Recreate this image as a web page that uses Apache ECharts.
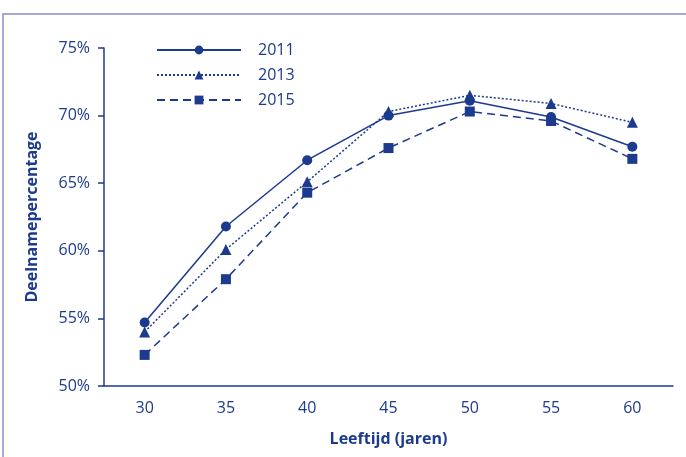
<!DOCTYPE html>
<html>
<head>
<meta charset="utf-8">
<script src="https://cdn.jsdelivr.net/npm/echarts@6/dist/echarts.min.js"></script>
<style>
  html, body { margin: 0; padding: 0; background: #fff; }
  #main { width: 686px; height: 457px; }
</style>
</head>
<body>
<div id="main"></div>
<script>
// leeftijden op de x-as
const ages = ['30', '35', '40', '45', '50', '55', '60'];
// deelnamepercentages per jaar
const data2011 = [54.7, 61.8, 66.7, 70.0, 71.1, 69.9, 67.7];
const data2013 = [54.0, 60.1, 65.1, 70.3, 71.5, 70.9, 69.5];
const data2015 = [52.3, 57.9, 64.3, 67.6, 70.3, 69.6, 66.8];

const navy = '#1c3a8e';
const font = 'Open Sans';

const chart = echarts.init(document.getElementById('main'), null, { renderer: 'canvas' });

function serie(name, data, symbol, size, lineType) {
  return {
    name: name,
    type: 'line',
    data: data,
    symbol: symbol,
    symbolSize: size,
    itemStyle: { color: navy },
    lineStyle: { color: navy, width: 1.5, type: lineType },
    animation: false
  };
}

const option = {
  backgroundColor: '#fff',
  graphic: [{
    type: 'rect',
    shape: { x: 3, y: 14, width: 700, height: 460 },
    style: { fill: 'none', stroke: '#8c8cc8', lineWidth: 1.5 },
    z: -1
  }],
  grid: { left: 104, right: 13, top: 48, bottom: 71 },
  legend: {
    orient: 'vertical',
    left: 151,
    top: 37,
    itemWidth: 84,
    itemHeight: 11,
    itemGap: 9,
    textStyle: { color: navy, fontSize: 16, fontFamily: font, padding: [0, 0, 0, 12] },
    data: ['2011', '2013', '2015']
  },
  xAxis: {
    type: 'category',
    data: ages,
    boundaryGap: true,
    name: 'Leeftijd (jaren)',
    nameLocation: 'middle',
    nameGap: 45,
    nameTextStyle: { color: navy, fontSize: 16, fontWeight: 'bold', fontFamily: font },
    axisLine: { lineStyle: { color: navy, width: 1.5 } },
    axisTick: { length: 6, lineStyle: { color: navy, width: 1.5 } },
    axisLabel: { color: navy, fontSize: 16, fontFamily: font, margin: 14 }
  },
  yAxis: {
    type: 'value',
    min: 50,
    max: 75,
    interval: 5,
    name: 'Deelnamepercentage',
    nameLocation: 'middle',
    nameGap: 64,
    nameTextStyle: { color: navy, fontSize: 16, fontWeight: 'bold', fontFamily: font },
    axisLine: { show: true, lineStyle: { color: navy, width: 1.5 } },
    axisTick: { show: true, length: 6, lineStyle: { color: navy, width: 1.5 } },
    axisLabel: { color: navy, fontSize: 16, fontFamily: font, margin: 14, formatter: '{value}%' },
    splitLine: { show: false }
  },
  series: [
    serie('2011', data2011, 'circle', 10, 'solid'),
    serie('2013', data2013, 'triangle', 11, [2, 2]),
    serie('2015', data2015, 'rect', 10, [8, 5])
  ]
};

chart.setOption(option);
</script>
</body>
</html>
